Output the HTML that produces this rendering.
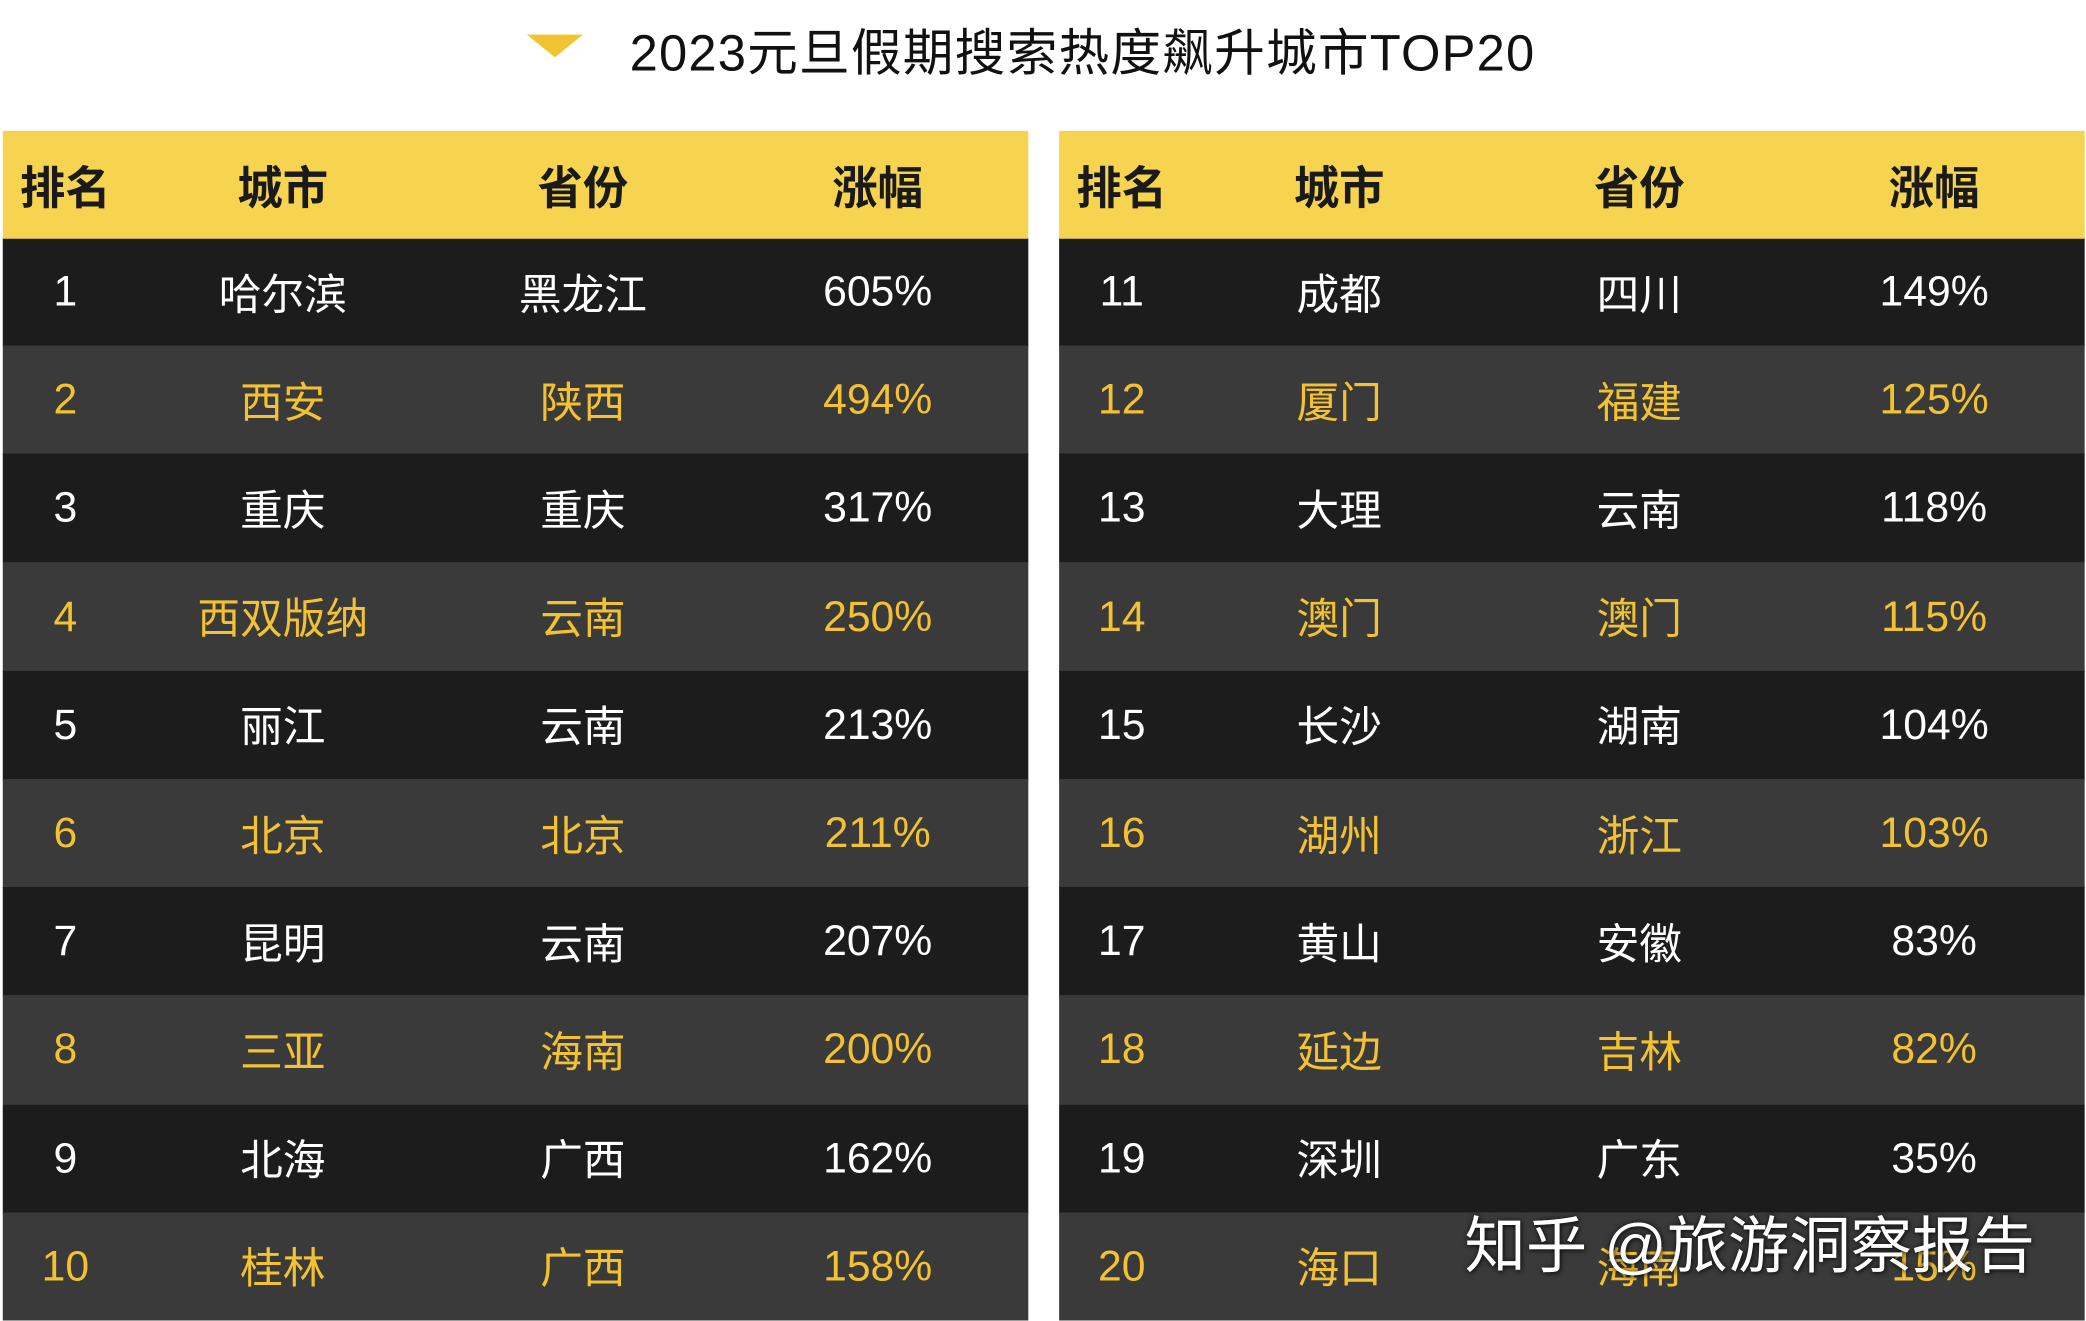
<!DOCTYPE html>
<html><head><meta charset="utf-8">
<style>
html,body{margin:0;padding:0;background:#fff;overflow:hidden;width:2086px;height:1320px}
#stage{position:absolute;left:0;top:0;width:1564px;height:990px;transform:scale(1.33384);transform-origin:0 0;font-family:"Liberation Sans","Noto Sans CJK SC",sans-serif}
.title{position:absolute;left:472px;top:9px;font-size:38px;color:#111;white-space:nowrap;letter-spacing:0.9px}
.tri{position:absolute;left:395px;top:26px;width:0;height:0;border-left:21px solid transparent;border-right:21px solid transparent;border-top:17px solid #f3c431}
.tbl{position:absolute;top:98px;width:769px;height:892px;overflow:hidden}
.hdr{position:absolute;left:0;top:0;width:100%;height:81px;background:#f6d44f;z-index:1}
.row{position:absolute;left:0;width:100%;height:82px}
.cell{position:absolute;top:0;height:81px;display:flex;align-items:center;justify-content:center;transform:translateX(-50%);white-space:nowrap}
.hdr .cell{font-size:34px;font-weight:bold;color:#1a1a1a;height:80px}
.row .cell{font-size:32px}
.wm{position:absolute;left:1098px;top:898px;font-size:46px;color:#fff;white-space:nowrap;text-shadow:0 0 4px rgba(0,0,0,0.6),1px 1px 3px rgba(0,0,0,0.5)}
</style></head>
<body>
<div id="stage">
  <div class="tri"></div>
  <div class="title">2023元旦假期搜索热度飙升城市TOP20</div>
  <div class="tbl" id="tl" style="left:2px"></div>
  <div class="tbl" id="tr" style="left:794px"></div>
  <div class="wm">知乎 @旅游洞察报告</div>
</div>
<script>
const ranks = [1,2,3,4,5,6,7,8,9,10,11,12,13,14,15,16,17,18,19,20];
const cities = ["哈尔滨","西安","重庆","西双版纳","丽江","北京","昆明","三亚","北海","桂林","成都","厦门","大理","澳门","长沙","湖州","黄山","延边","深圳","海口"];
const provinces = ["黑龙江","陕西","重庆","云南","云南","北京","云南","海南","广西","广西","四川","福建","云南","澳门","湖南","浙江","安徽","吉林","广东","海南"];
const growth = ["605%","494%","317%","250%","213%","211%","207%","200%","162%","158%","149%","125%","118%","115%","104%","103%","83%","82%","35%","15%"];
const headers = ["排名","城市","省份","涨幅"];

const colX = [47,210,435,656];
function build(tbl, offset){
  const h = document.createElement('div');
  h.className='hdr';
  
  
  headers.forEach((t,i)=>{
    const c=document.createElement('div');
    c.className='cell';
    c.style.left=colX[i]+'px';
    c.textContent=t;
    
    
    h.appendChild(c);
  });
  tbl.appendChild(h);
  for(let r=0;r<10;r++){
    const k=offset+r;
    const row=document.createElement('div');
    row.className='row';
    row.style.top=(80+r*81.2)+'px';
    const alt=r%2===1;
    row.style.background=alt?'#3a3a3a':'#1c1c1c';
    row.style.color=alt?'#f2c232':'#fff';
    
    
    [String(ranks[k]),cities[k],provinces[k],growth[k]].forEach((t,i)=>{
      const c=document.createElement('div');
      c.className='cell';
      c.style.left=colX[i]+'px';
      c.textContent=t;
      
      
      row.appendChild(c);
    });
    tbl.appendChild(row);
  }
}
build(document.getElementById('tl'),0);
build(document.getElementById('tr'),10);
</script>
</body></html>
